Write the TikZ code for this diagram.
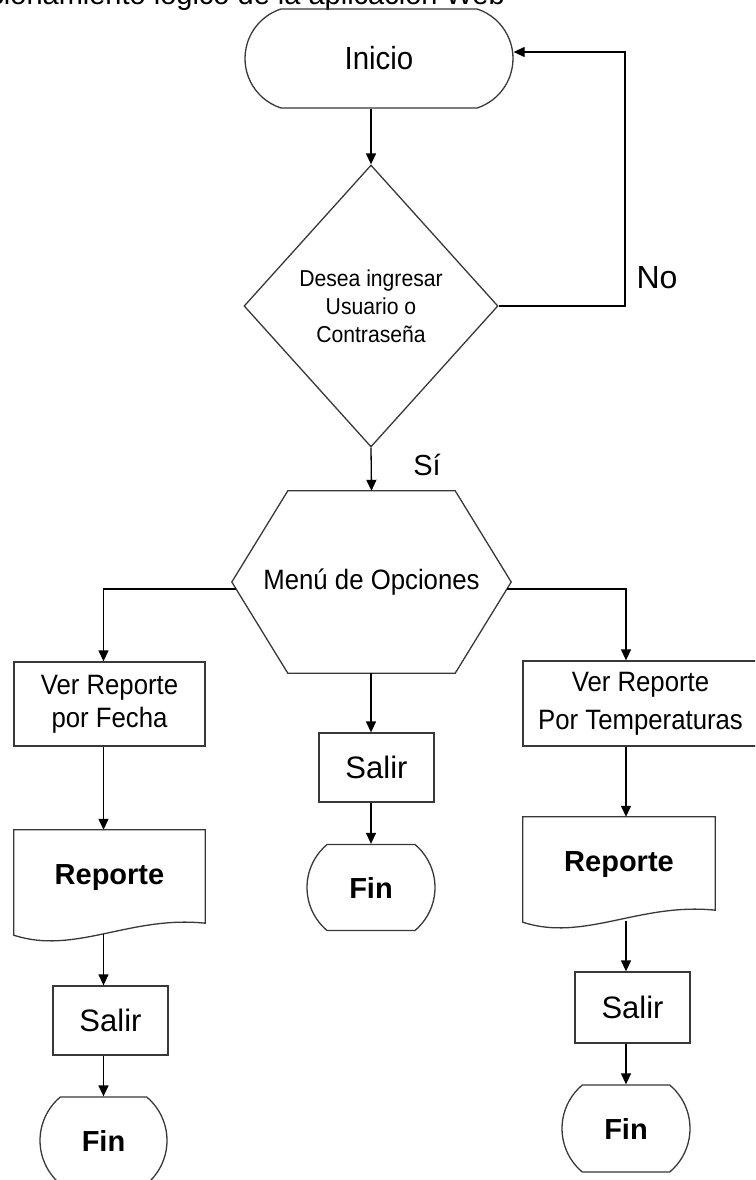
\documentclass[tikz,border=0pt]{standalone}
\usepackage{fontspec}
\setmainfont{Liberation Sans}
\newfontfamily\narrowsans{Liberation Sans}[FakeStretch=0.92]
\usetikzlibrary{shapes.geometric,shapes.misc,arrows.meta}

\tikzset{
  outline/.style={draw=black!78, line width=1.3pt},
  link/.style={draw=black, line width=1.3pt, -{Triangle[length=11pt,width=10pt]}},
  terminal/.style={rounded rectangle, outline, inner sep=0pt},
  box/.style={rectangle, outline, inner sep=0pt, align=center},
  bare/.style={rectangle, draw=none, inner sep=0pt, align=center},
  decision/.style={diamond, outline, inner sep=0pt, align=center},
  salirtext/.style={font=\fontsize{31}{31}\selectfont},
  fintext/.style={font=\bfseries\fontsize{29}{29}\selectfont},
  reptext/.style={font=\bfseries\fontsize{29}{29}\selectfont},
  steptext/.style={font=\narrowsans\fontsize{28}{33}\selectfont},
}

% document symbol: straight top and sides, wavy bottom edge
\newcommand{\docoutline}[1]{%
  \draw[outline] (#1.north west) -- (#1.north east) -- ([yshift=3pt]#1.south east)
    .. controls ([xshift=-75pt,yshift=11pt]#1.south east) and ([xshift=61pt,yshift=-29pt]#1.south west)
    .. ([yshift=-9pt]#1.south west) -- cycle;}

\begin{document}
\begin{tikzpicture}[x=1pt, y=-1pt]
  \useasboundingbox (0,0) rectangle (755,1180);
  \clip (0,0) rectangle (755,1180);

  % heading
  \node[bare, anchor=base east, font=\fontsize{29}{29}\selectfont] (title) at (505,5)
    {Funcionamiento lógico de la aplicación Web};

  % start and login question
  \node[terminal, minimum width=268pt, minimum height=99pt, rounded rectangle arc length=144,
        font=\narrowsans\fontsize{32}{32}\selectfont] (inicio) at (379,58.5) {Inicio};
  \node[decision, minimum width=254pt, minimum height=282pt,
        font=\narrowsans\fontsize{23}{28}\selectfont] (pregunta) at (371,306)
    {Desea ingresar\\Usuario o\\Contraseña};

  % options menu (hexagon)
  \node[bare, minimum width=279pt, minimum height=182pt,
        font=\narrowsans\fontsize{28}{28}\selectfont] (menu) at (371.5,582) {Menú de Opciones};
  \draw[outline] (menu.west) -- ([xshift=56pt]menu.north west) -- ([xshift=-56pt]menu.north east)
    -- (menu.east) -- ([xshift=-56pt]menu.south east) -- ([xshift=56pt]menu.south west) -- cycle;

  % left branch
  \node[box, steptext, minimum width=191pt, minimum height=84pt] (verfecha) at (109.5,704)
    {Ver Reporte\\por Fecha};
  \node[bare, reptext, minimum width=191pt, minimum height=96pt] (rep1) at (109.5,878) {Reporte};
  \docoutline{rep1}
  \node[box, salirtext, minimum width=115pt, minimum height=69pt] (salir1) at (110.5,1020.5) {Salir};
  \node[terminal, fintext, minimum width=127pt, minimum height=87pt, rounded rectangle arc length=100]
    (fin1) at (103.5,1140.5) {Fin};

  % middle branch
  \node[box, salirtext, minimum width=115pt, minimum height=69pt] (salir2) at (376.5,767.5) {Salir};
  \node[terminal, fintext, minimum width=128pt, minimum height=86pt, rounded rectangle arc length=100]
    (fin2) at (371,887.5) {Fin};

  % right branch
  \node[box, font=\narrowsans\fontsize{28}{38}\selectfont, minimum width=235pt, minimum height=85pt]
    (vertemp) at (640.5,703.5) {Ver Reporte\\Por Temperaturas};
  \node[bare, reptext, minimum width=192pt, minimum height=96pt] (rep2) at (619,865) {Reporte};
  \docoutline{rep2}
  \node[box, salirtext, minimum width=115pt, minimum height=71pt] (salir3) at (632.5,1007.5) {Salir};
  \node[terminal, fintext, minimum width=128pt, minimum height=87pt, rounded rectangle arc length=100]
    (fin3) at (626,1128.5) {Fin};

  % branch labels
  \node[bare, font=\fontsize{32}{32}\selectfont] (lblno) at (657,278) {No};
  \node[bare, font=\fontsize{29}{29}\selectfont] (lblsi) at (427,465) {Sí};

  % connectors
  \coordinate (noturn) at (625,52);
  \draw[link] (inicio.south -| pregunta) -- (pregunta.north);
  \draw[link] (pregunta.east) -| (noturn) -- (inicio.east |- noturn);
  \draw[link] (pregunta.south) -- (menu.north);

  \draw[link] ([xshift=4pt,yshift=-7pt]menu.west) -| (verfecha.north -| fin1);
  \draw[link] (verfecha.south -| fin1) -- (rep1.north -| fin1);
  \path (rep1.south -| fin1) ++(0,8) coordinate (rep1tail);
  \draw[link] (rep1tail) -- (salir1.north -| fin1);
  \draw[link] (salir1.south -| fin1) -- (fin1.north);

  \draw[link] (menu.south -| fin2) -- (salir2.north -| fin2);
  \draw[link] (salir2.south -| fin2) -- (fin2.north);

  \draw[link] ([xshift=-4pt,yshift=-7pt]menu.east) -| (vertemp.north -| fin3);
  \draw[link] (vertemp.south -| fin3) -- (rep2.north -| fin3);
  \path (rep2.south -| fin3) ++(0,8) coordinate (rep2tail);
  \draw[link] (rep2tail) -- (salir3.north -| fin3);
  \draw[link] (salir3.south -| fin3) -- (fin3.north);
\end{tikzpicture}
\end{document}
